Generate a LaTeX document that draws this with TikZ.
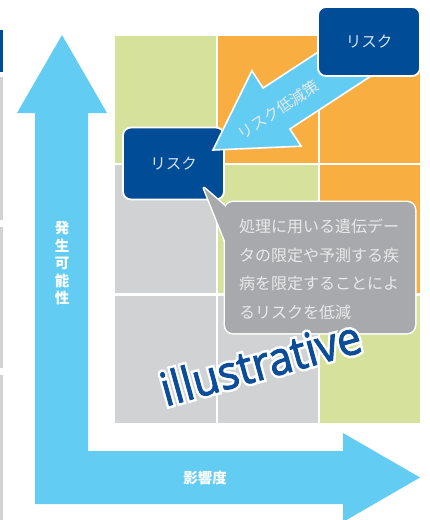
\documentclass[tikz,border=0pt]{standalone}
\usepackage{fontspec}
\newfontfamily\jpfont{Noto Sans CJK JP}
\newfontfamily\illfont[FakeBold=2]{Open Sans}
\newfontfamily\illhalo[FakeBold=13]{Open Sans}
\usetikzlibrary{calc}
\definecolor{navy}{RGB}{0,76,151}
\definecolor{lblue}{RGB}{99,204,242}
\definecolor{cgreen}{RGB}{214,225,156}
\definecolor{corange}{RGB}{249,174,66}
\definecolor{cgray}{RGB}{209,210,212}
\definecolor{callgray}{RGB}{167,169,172}
\definecolor{calltext}{RGB}{232,233,234}
\definecolor{boxtext}{RGB}{215,226,240}
\definecolor{illblue}{RGB}{11,77,153}
\newcommand\illtext{\scalebox{0.93}[1]{illustrative}}
\begin{document}
\begin{tikzpicture}[x=1pt,y=-1pt,
  riskbox/.style={draw=white, line width=1.8pt, fill=navy, rounded corners=8pt,
    text=boxtext, inner sep=0pt, font=\jpfont\fontsize{15.5}{18}\selectfont},
  axislabel/.style={text=white, inner sep=0pt, font=\jpfont\bfseries\fontsize{14.5}{17.5}\selectfont},
  blockarrow/.style={fill=lblue, draw=white, line width=1.6pt, line join=miter},
  illus/.style={anchor=base, rotate=15.5, inner sep=0pt, font=\fontsize{46}{52}\selectfont}]
\useasboundingbox (0,0) rectangle (429,520);
\fill[white] (0,0) rectangle (429,520);
% fragments of neighbouring slide at the left edge
\fill[navy] (0,30) rectangle (3,72);
\fill[cgray] (0,77) rectangle (3,220);
\fill[cgray] (0,227) rectangle (3,368);
\fill[cgray] (0,375) rectangle (3,520);
% risk matrix
\fill[cgreen]  (115,36) rectangle (216,162.5);
\fill[corange] (218,36) rectangle (318,162.5);
\fill[corange] (320,36) rectangle (420,162.5);
\fill[cgray]   (115,165) rectangle (216,293);
\fill[cgreen]  (218,165) rectangle (318,293);
\fill[corange] (320,165) rectangle (420,293);
\fill[cgray]   (115,295.5) rectangle (216,423);
\fill[cgray]   (218,295.5) rectangle (318,423);
\fill[cgreen]  (320,295.5) rectangle (420,423);
% L-shaped axis arrow
\fill[lblue] (62,35) -- (107,113) -- (88,113) -- (88,451) -- (343,451) -- (343,433)
  -- (420,477.5) -- (343,522) -- (343,504) -- (35,504) -- (35,113) -- (17,113) -- cycle;
\node[axislabel, align=center] (ylab) at (62,263) {発\\生\\可\\能\\性};
\node[axislabel] (xlab) at (205,478) {影響度};
% risk boxes and mitigation arrow
\node[riskbox, minimum width=101pt, minimum height=72pt] (r1) at (173.5,163.5) {リスク};
\path[blockarrow] (213,150) -- (251.9,70.8) -- (263.1,88.0) -- (359.4,25.1)
  -- (386.2,66.1) -- (289.9,129.0) -- (301.1,146.2) -- cycle;
\node[text=calltext, rotate=33.2, inner sep=0pt, font=\jpfont\fontsize{15.5}{18}\selectfont] (alab) at (278,110) {リスク低減策};
\node[riskbox, minimum width=102pt, minimum height=69pt] (r2) at (369,41.5) {リスク};
% callout
\draw[white, line width=3pt, fill=callgray, line join=round] (204,188) -- (228,209) -- (228,248) -- cycle;
\draw[white, line width=3pt, fill=callgray, rounded corners=8pt] (225,202) rectangle (415,333);
\fill[callgray] (204,188) -- (228,209) -- (228,248) -- cycle;
\fill[callgray, rounded corners=8pt] (225,202) rectangle (415,333);
\node[anchor=north west, align=left, inner sep=0pt, text=calltext,
  font=\jpfont\fontsize{16}{28.5}\selectfont] (ctext) at (239,219)
  {処理に用いる遺伝デー\\タの限定や予測する疾\\病を限定することによ\\るリスクを低減};
% illustrative stamp
\coordinate (ib) at (265,379);
\node[illus, text=white] (halo) at (ib) {\illhalo\illtext};
\node[illus, text=illblue] (ill) at (ib) {\illfont\illtext};
\end{tikzpicture}
\end{document}
